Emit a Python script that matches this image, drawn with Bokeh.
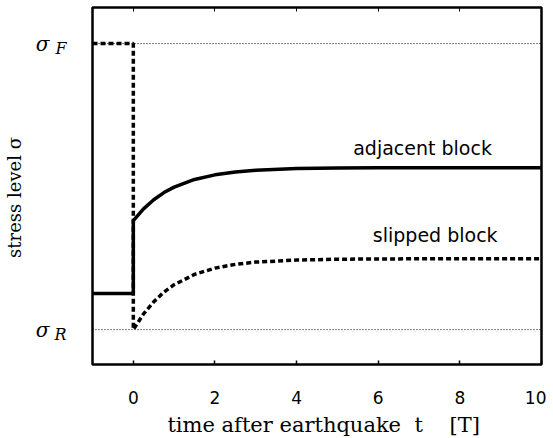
from bokeh.plotting import figure
from bokeh.models import Range1d, LinearAxis, FixedTicker
from bokeh.core.properties import value
from bokeh.embed import file_html
from bokeh.resources import INLINE

# stress levels (sigma_R = 0, sigma_F = 1)
sigma_R = 0.0
sigma_F = 1.0

# adjacent block (solid)
adj_t = [-1, 0, 0, 0.25, 0.5, 0.75, 1, 1.5, 2, 2.5, 3, 4, 5, 6, 8, 10]
adj_s = [0.126, 0.126, 0.381, 0.422, 0.454, 0.479, 0.498, 0.525, 0.541, 0.551, 0.557, 0.563, 0.565, 0.566, 0.566, 0.566]

# slipped block (dashed)
slip_t = [-1, 0, 0, 0.25, 0.5, 0.75, 1, 1.5, 2, 2.5, 3, 4, 5, 6, 8, 10]
slip_s = [1.0, 1.0, 0.0, 0.055, 0.097, 0.131, 0.157, 0.193, 0.215, 0.228, 0.236, 0.243, 0.246, 0.247, 0.248, 0.248]

x_ticks = [0, 2, 4, 6, 8, 10]
sub_shift = 0.018  # subscripts sit a little below the sigma

p = figure(frame_width=449, frame_height=357, output_backend="svg", toolbar_location=None,
           x_range=Range1d(-1, 10), y_range=Range1d(-0.122, 1.126),
           min_border_left=91, min_border_right=5, min_border_top=7, min_border_bottom=20,
           x_axis_location=None, y_axis_location=None)
p.grid.visible = False
p.outline_line_color = "black"
p.outline_line_width = 2.5
p.background_fill_color = "white"
p.border_fill_color = "white"

SERIF = "DejaVu Serif"
SANS = "DejaVu Sans"
NB = "\u00a0"

# bottom axis
xb = LinearAxis(ticker=FixedTicker(ticks=x_ticks))
xb.axis_line_color = None
xb.major_tick_in = 4
xb.major_tick_out = 0
xb.major_tick_line_width = 1.5
xb.minor_tick_line_color = None
xb.major_label_text_font = SANS
xb.major_label_text_font_size = "17px"
xb.major_label_text_color = "black"
xb.major_label_standoff = 26
xb.axis_label = NB * 2 + "time after earthquake" + NB * 2 + "t" + NB * 4 + "[T]"
xb.axis_label_text_font = SERIF
xb.axis_label_text_font_style = "normal"
xb.axis_label_text_font_size = "21px"
xb.axis_label_text_color = "black"
xb.axis_label_standoff = 6
p.add_layout(xb, "below")

# top axis (ticks only)
xt = LinearAxis(ticker=FixedTicker(ticks=x_ticks))
xt.axis_line_color = None
xt.major_tick_in = 4
xt.major_tick_out = 0
xt.minor_tick_line_color = None
xt.major_label_overrides = {t: "" for t in x_ticks}
xt.major_label_standoff = 0
p.add_layout(xt, "above")

# left axis 1 (nearest frame): subscripts F and R
ys = LinearAxis(ticker=FixedTicker(ticks=[sigma_R - sub_shift, sigma_F - sub_shift]))
ys.axis_line_color = None
ys.major_tick_line_color = None
ys.minor_tick_line_color = None
ys.major_tick_in = 0
ys.major_tick_out = 0
ys.major_label_overrides = {sigma_R - sub_shift: "R", sigma_F - sub_shift: "F"}
ys.major_label_text_font = SERIF
ys.major_label_text_font_style = "italic"
ys.major_label_text_font_size = "16px"
ys.major_label_text_color = "black"
ys.major_label_standoff = 26
p.add_layout(ys, "left")

# left axis 2: sigma symbols
ysig = LinearAxis(ticker=FixedTicker(ticks=[sigma_R, sigma_F]))
ysig.axis_line_color = None
ysig.major_tick_line_color = None
ysig.minor_tick_line_color = None
ysig.major_tick_in = 0
ysig.major_tick_out = 0
ysig.major_label_overrides = {sigma_R: "σ", sigma_F: "σ"}
ysig.major_label_text_font = SERIF
ysig.major_label_text_font_style = "italic"
ysig.major_label_text_font_size = "20px"
ysig.major_label_text_color = "black"
ysig.major_label_standoff = 2
p.add_layout(ysig, "left")

# left axis 3: title only
yt = LinearAxis(ticker=FixedTicker(ticks=[]))
yt.axis_line_color = None
yt.major_tick_line_color = None
yt.minor_tick_line_color = None
yt.major_tick_in = 0
yt.major_tick_out = 0
yt.axis_label = "stress level σ" + NB * 4
yt.axis_label_text_font = SERIF
yt.axis_label_text_font_style = "normal"
yt.axis_label_text_font_size = "18px"
yt.axis_label_text_color = "black"
yt.axis_label_standoff = 8
p.add_layout(yt, "left")

# reference dotted lines
p.line([-1, 10], [sigma_F, sigma_F], line_color="black", line_width=1, line_dash="1 2")
p.line([-1, 10], [sigma_R, sigma_R], line_color="black", line_width=1, line_dash="1 2")

# curves
p.line(adj_t, adj_s, line_color="black", line_width=3.5)
p.line(slip_t, slip_s, line_color="black", line_width=3.5, line_dash="5 3")

# curve labels
p.text(x=[7.16], y=[0.635], text=["adjacent  block"], text_font_size="19px",
       text_align="center", text_baseline="alphabetic", text_color="black",
       text_font=value(SANS))
p.text(x=[7.47], y=[0.33], text=["slipped  block"], text_font_size="19px",
       text_align="center", text_baseline="alphabetic", text_color="black",
       text_font=value(SANS))

open("out.html", "w").write(file_html(p, INLINE))
